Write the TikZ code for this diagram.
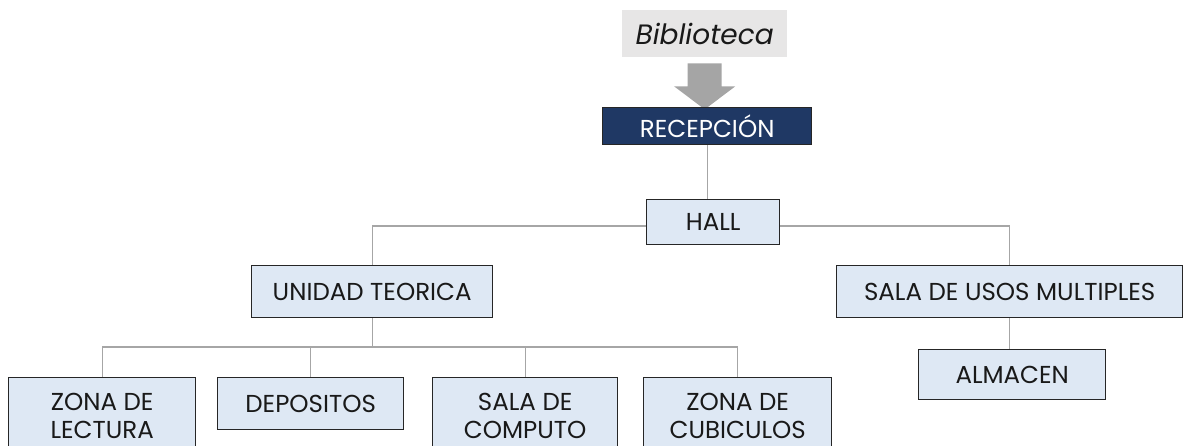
\documentclass[tikz,border=0pt]{standalone}
\usepackage{fontspec}
\setmainfont{Poppins}
\usepackage{xcolor}
\usetikzlibrary{calc}
\usetikzlibrary{backgrounds}
\definecolor{navy}{HTML}{1F3864}
\definecolor{paleblue}{HTML}{DEE8F4}
\definecolor{paper}{HTML}{E7E6E6}
\definecolor{linegray}{HTML}{A6A6A6}
\definecolor{arrowgray}{HTML}{A5A5A5}
\tikzstyle{roombox} = [draw=black!85, fill=paleblue, line width=1.4pt,
rectangle, inner sep=0pt, align=center, text=black!90,
font=\fontsize{24.5}{28}\selectfont]
\tikzstyle{headbox} = [roombox, fill=navy, text=white]
\tikzstyle{titlebox} = [fill=paper, inner sep=0pt, text=black!90,
font=\fontsize{28}{30}\selectfont\itshape]
\tikzstyle{link} = [draw=linegray, line width=1.1pt]

\begin{document}
\begin{tikzpicture}[x=1pt, y=-1pt]
    \useasboundingbox (0,0) rectangle (1184,445);
    \clip (0,0) rectangle (1184,445);
    \node [titlebox, anchor=north west, minimum width=165, minimum height=47] (biblio) at (622,10) {Biblioteca};
    \fill [arrowgray] ($(biblio.south)+(-17,6)$) -- ($(biblio.south)+(17,6)$)
        -- ($(biblio.south)+(17,29)$) -- ($(biblio.south)+(30.5,29)$)
        -- ($(biblio.south)+(0,52)$) -- ($(biblio.south)+(-30.5,29)$)
        -- ($(biblio.south)+(-17,29)$) -- cycle;
    \node [headbox, anchor=north west, minimum width=209, minimum height=37] (recepcion) at (602,107) {RECEPCIÓN};
    \node [roombox, anchor=north west, minimum width=133, minimum height=45] (hall) at (646,199) {HALL};
    \node [roombox, anchor=north west, minimum width=241, minimum height=52] (unidad) at (251,265) {UNIDAD TEORICA};
    \node [roombox, anchor=north west, minimum width=346, minimum height=52] (usos) at (836,265) {SALA DE USOS MULTIPLES};
    \node [roombox, anchor=north west, minimum width=187, minimum height=50] (almacen) at (918,349) {ALMACEN};
    \node [roombox, anchor=north west, minimum width=187, minimum height=76] (lectura) at (8,377) {ZONA DE\\LECTURA};
    \node [roombox, anchor=north west, minimum width=186, minimum height=52] (depositos) at (217,377) {DEPOSITOS};
    \node [roombox, anchor=north west, minimum width=185, minimum height=76] (computo) at (432,377) {SALA DE\\COMPUTO};
    \node [roombox, anchor=north west, minimum width=188, minimum height=76] (cubiculos) at (643,377) {ZONA DE\\CUBICULOS};
    \begin{scope}[on background layer]
        \draw [link] (recepcion.south) -- (recepcion.south |- hall.north);
        \draw [link] (unidad.north) |- (hall.west |- 0,226);
        \draw [link] (hall.east |- 0,226) -| (usos.north);
        \draw [link] (unidad.south) -- (unidad.south |- 0,347);
        \draw [link] (lectura.north) |- (unidad.south |- 0,347) -| (cubiculos.north);
        \draw [link] (depositos.north) -- (depositos.north |- 0,347);
        \draw [link] (computo.north) -- (computo.north |- 0,347);
        \draw [link] (usos.south) -- (usos.south |- almacen.north);
    \end{scope}
\end{tikzpicture}
\end{document}
